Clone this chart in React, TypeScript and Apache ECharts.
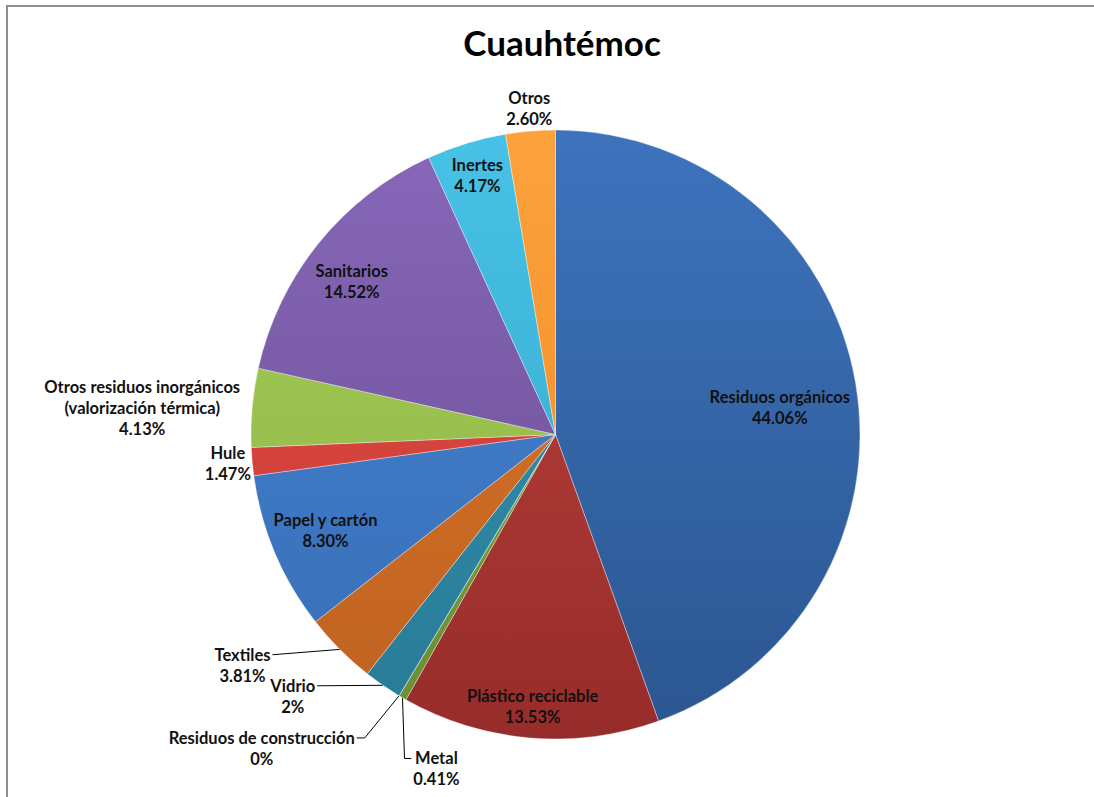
import React, { useEffect, useRef } from "react";
import * as echarts from "echarts";

const categories = [
  "Residuos orgánicos",
  "Plástico reciclable",
  "Metal",
  "Residuos de construcción",
  "Vidrio",
  "Textiles",
  "Papel y cartón",
  "Hule",
  "Otros residuos inorgánicos\n(valorización térmica)",
  "Sanitarios",
  "Inertes",
  "Otros",
];
const values = [44.06, 13.53, 0.41, 0, 2, 3.81, 8.3, 1.47, 4.13, 14.52, 4.17, 2.6];
const percentLabels = ["44.06%", "13.53%", "0.41%", "0%", "2%", "3.81%", "8.30%", "1.47%", "4.13%", "14.52%", "4.17%", "2.60%"];

// colour pairs (top, bottom) for the vertical shading
const colorTop = ["#3d73bd", "#c0443e", "#82a941", "#7d5ca2", "#3297b5", "#da7629", "#4585d4", "#e24c45", "#a6ce57", "#8868ba", "#47c2e6", "#fca23c"];
const colorBottom = ["#2b5690", "#962c2a", "#6a8e33", "#654a86", "#297a96", "#bf6221", "#386db5", "#c83a35", "#8db346", "#674b8f", "#35a4ca", "#ef8824"];

// label placement: [radius ratio, angle in degrees clockwise from top]
const labelPlacement: [number, number][] = [
  [0.742, 83.1],
  [0.897, 184.8],
  [1.166, 199.6],
  [1.412, 223.1],
  [1.218, 225.1],
  [1.277, 233.6],
  [0.818, 247.4],
  [1.08, 265],
  [1.36, 273.6],
  [0.837, 306.9],
  [0.887, 343.2],
  [1.074, 355.4],
];
const leaderKind = ["none", "none", "down", "elbow", "straight", "straight", "none", "none", "none", "none", "none", "none"];

const CX = 555.5;
const CY = 434.5;
const R = 304.5;

export default function App() {
  const ref = useRef<HTMLDivElement>(null);
  useEffect(() => {
    if (!ref.current) return;
    const chart = echarts.init(ref.current, null, { renderer: "svg" });
    const total = values.reduce((a, b) => a + b, 0);
    const cum: number[] = [];
    let acc = 0;
    values.forEach((v) => {
      cum.push(acc);
      acc += v;
    });
    const polar = (ratio: number, ang: number) => [CX + R * ratio * Math.sin(ang), CY - R * ratio * Math.cos(ang)];
    const midAng = (i: number) => ((cum[i] + values[i] / 2) / total) * Math.PI * 2;

    const data = categories.map((name, i) => {
      const outside = labelPlacement[i][0] > 1;
      return {
        name,
        value: values[i],
        itemStyle: {
          color: new echarts.graphic.LinearGradient(
            0, 130, 0, 740,
            [
              { offset: 0, color: colorTop[i] },
              { offset: 1, color: colorBottom[i] },
            ],
            true
          ),
        },
        label: { position: outside ? "outside" : "inside" },
        labelLine: { show: leaderKind[i] !== "none" },
      };
    });

    chart.setOption({
      animation: false,
      backgroundColor: "#ffffff",
      title: {
        text: "Cuauhtémoc",
        left: 557,
        textAlign: "center",
        top: 19,
        textStyle: { fontFamily: "Lato", fontWeight: "bold", fontSize: 35, color: "#000" },
      },
      graphic: [
        {
          type: "rect",
          shape: { x: 7, y: 6, width: 1300, height: 1000 },
          style: { fill: "none", stroke: "#8f8f8f", lineWidth: 2 },
          silent: true,
        },
      ],
      series: [
        {
          type: "pie",
          center: [CX, CY],
          radius: R,
          startAngle: 90,
          clockwise: true,
          avoidLabelOverlap: false,
          minShowLabelAngle: 0,
          emphasis: { disabled: true },
          itemStyle: { borderColor: "rgba(255,255,255,0.35)", borderWidth: 1 },
          label: {
            show: true,
            color: "#111",
            fontFamily: "Lato",
            fontWeight: "bold",
            fontSize: 16.5,
            lineHeight: 21,
            align: "center",
            formatter: (p: any) => `${p.name}\n${percentLabels[p.dataIndex]}`,
          },
          labelLine: { lineStyle: { color: "#000", width: 1 } },
          labelLayout: (params: any) => {
            const i = params.dataIndex;
            const [ratio, deg] = labelPlacement[i];
            const [x, y] = polar(ratio, (deg * Math.PI) / 180);
            const w = params.labelRect.width;
            const h = params.labelRect.height;
            const out: any = { x, y, align: "center", verticalAlign: "middle" };
            const edge = polar(1, midAng(i));
            const ly = y - h / 4;
            const kind = leaderKind[i];
            if (kind === "straight") {
              out.labelLinePoints = [[x + w / 2 + 2, ly], [x + w / 2 + 2, ly], edge];
            } else if (kind === "elbow") {
              out.labelLinePoints = [[x + w / 2 + 2, ly], [x + w / 2 + 10, ly], edge];
            } else if (kind === "down") {
              out.labelLinePoints = [edge, [edge[0] + 2, ly], [x - w / 2 - 2, ly]];
            }
            return out;
          },
          data,
        },
      ],
    });
    return () => chart.dispose();
  }, []);
  return <div ref={ref} style={{ position: "absolute", left: 0, top: 0, width: 1094, height: 797 }} />;
}
